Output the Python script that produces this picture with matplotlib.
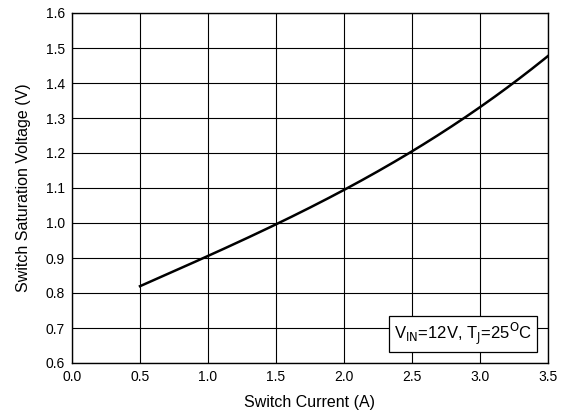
import numpy as np
import matplotlib
matplotlib.use('Agg')
from matplotlib import pyplot as plt

plt.rcParams['font.family'] = ['Liberation Sans', 'DejaVu Sans']

# values
current = [0.5, 1.0, 1.5, 2.0, 2.5, 3.0, 3.5]
vsat = [0.82, 0.904, 0.998, 1.095, 1.203, 1.332, 1.477]

xticks = [0.0, 0.5, 1.0, 1.5, 2.0, 2.5, 3.0, 3.5]
yticks = [0.6, 0.7, 0.8, 0.9, 1.0, 1.1, 1.2, 1.3, 1.4, 1.5, 1.6]

fig = plt.figure(figsize=(5.65, 4.16), dpi=100)
ax = fig.add_axes([72/565, 53/416, 476/565, 350/416])

# smooth through the read points
xs = np.linspace(current[0], current[-1], 200)
coef = np.polyfit(current, vsat, 3)
ax.plot(xs, np.polyval(coef, xs), color='black', lw=1.8)

ax.set_xlim(0, 3.5)
ax.set_ylim(0.6, 1.6)
ax.set_xticks(xticks)
ax.set_yticks(yticks)
ax.set_xticklabels(['%.1f' % v for v in xticks])
ax.set_yticklabels(['%.1f' % v for v in yticks])
ax.tick_params(length=0, labelsize=10, pad=5)
ax.tick_params(axis='x', pad=5)
ax.grid(True, color='black', lw=0.8)
for s in ax.spines.values():
    s.set_linewidth(1.0)

ax.set_xlabel('Switch Current (A)', fontsize=11.5, labelpad=8)
ax.set_ylabel('Switch Saturation Voltage (V)', fontsize=11.5, labelpad=11)

ax.text(0.967, 0.045, r'V$_{\rm IN}$=12V, T$_{\rm J}$=25$^{\rm O}$C', transform=ax.transAxes,
        ha='right', va='bottom', fontsize=12,
        bbox=dict(boxstyle='square,pad=0.3', fc='white', ec='black', lw=0.9))

fig.savefig('out.png', dpi=100)
